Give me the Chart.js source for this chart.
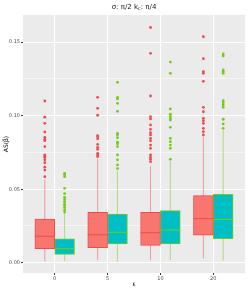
<!DOCTYPE html>
<html>
<head>
<meta charset="utf-8">
<script src="https://cdn.jsdelivr.net/npm/chart.js@4"></script>
<style>
  body { margin: 0; background: #fff; }
  canvas { display: block; }
</style>
</head>
<body>
<canvas id="boxChart" width="249" height="291"></canvas>
<script>
// Data
const categories = ['0', '5', '10', '20'];

const redLo  = [0.0010, 0.0018, 0.0018, 0.0030];
const redQ1  = [0.0095, 0.0102, 0.0118, 0.0188];
const redMed = [0.0180, 0.0190, 0.0204, 0.0300];
const redQ3  = [0.0296, 0.0343, 0.0343, 0.0456];
const redHi  = [0.0565, 0.0705, 0.0658, 0.0857];
const redOut = [
    [0.0585, 0.0630, 0.0650, 0.0680, 0.0700, 0.0715, 0.0725, 0.0733, 0.0790, 0.0830, 0.0839, 0.0853, 0.0889, 0.0948, 0.0990, 0.1100],
    [0.0721, 0.0733, 0.0744, 0.0771, 0.0785, 0.0805, 0.0844, 0.0857, 0.0864, 0.1003, 0.1050, 0.1125],
    [0.0687, 0.0703, 0.0717, 0.0733, 0.0778, 0.0800, 0.0830, 0.0846, 0.0869, 0.0884, 0.0907, 0.0937, 0.0978, 0.0993, 0.1134, 0.1424, 0.1600],
    [0.0869, 0.0891, 0.0914, 0.0948, 0.0966, 0.0982, 0.1027, 0.1057, 0.1234, 0.1288, 0.1300, 0.1388, 0.1537]
];

const cyanLo  = [0.0010, 0.0007, 0.0018, 0.0014];
const cyanQ1  = [0.0057, 0.0127, 0.0127, 0.0163];
const cyanMed = [0.0095, 0.0207, 0.0222, 0.0295];
const cyanQ3  = [0.0163, 0.0331, 0.0354, 0.0465];
const cyanHi  = [0.0336, 0.0625, 0.0690, 0.0900];
const cyanOut = [
    [0.0345, 0.0360, 0.0375, 0.0390, 0.0400, 0.0415, 0.0430, 0.0445, 0.0470, 0.0506, 0.0585, 0.0597, 0.0608],
    [0.0640, 0.0665, 0.0700, 0.0733, 0.0790, 0.0810, 0.0820, 0.0850, 0.0870, 0.0880, 0.1030, 0.1084, 0.1114, 0.1125, 0.1227],
    [0.0703, 0.0778, 0.0800, 0.0823, 0.0846, 0.0921, 0.0970, 0.0980, 0.0993, 0.1010, 0.1046, 0.1288, 0.1365],
    [0.0914, 0.0944, 0.0976, 0.1057, 0.1073, 0.1088, 0.1102, 0.1288, 0.1300, 0.1311, 0.1406, 0.1420]
];

const yMajor = [0, 0.05, 0.10, 0.15];
const yMinor = [0.025, 0.075, 0.125];

// Styling
const redFill = '#F8766D';
const redLine = '#F04A4E';
const redWhisker = 'rgba(240, 74, 78, 0.5)';
const cyanFill = '#00BFC4';
const greenLine = '#72CC18';
const greenWhisker = 'rgba(114, 204, 24, 0.5)';
const dodge = 0.1875; // half of the dodge width (0.75 / 4)

// Helpers to turn the arrays into chart points
function boxPoints(q1, q3, shift) {
    return q1.map((v, i) => ({ x: i + shift, y: [v, q3[i]] }));
}

function whiskerPoints(lo, hi, shift) {
    const pts = [];
    lo.forEach((v, i) => {
        pts.push({ x: i + shift, y: v }, { x: i + shift, y: hi[i] }, { x: i + shift, y: null });
    });
    return pts;
}

function medianPoints(med, shift) {
    const pts = [];
    med.forEach((v, i) => {
        pts.push({ x: i + shift - dodge, y: v }, { x: i + shift + dodge, y: v }, { x: i + shift, y: null });
    });
    return pts;
}

function outlierPoints(groups, shift) {
    const pts = [];
    groups.forEach((list, i) => list.forEach(v => pts.push({ x: i + shift, y: v })));
    return pts;
}

function segment(data, color, order) {
    return {
        type: 'line',
        data: data,
        borderColor: color,
        borderWidth: 1,
        pointRadius: 0,
        spanGaps: false,
        order: order
    };
}

function outliers(data, color) {
    return {
        type: 'scatter',
        data: data,
        backgroundColor: color,
        borderWidth: 0,
        pointRadius: 1.4,
        order: 0
    };
}

function box(data, fill, stroke) {
    return {
        type: 'bar',
        data: data,
        backgroundColor: fill,
        borderColor: stroke,
        borderWidth: 1,
        borderSkipped: false,
        grouped: false,
        categoryPercentage: 1,
        barPercentage: 1,
        order: 2
    };
}

// Panel background
const panelPlugin = {
    id: 'panel',
    beforeDraw(chart) {
        const { ctx, chartArea: a } = chart;
        ctx.save();
        ctx.fillStyle = '#EBEBEB';
        ctx.fillRect(a.left, a.top, a.right - a.left, a.bottom - a.top);
        ctx.restore();
    }
};

// Title with a subscript
const titlePlugin = {
    id: 'plotTitle',
    afterDraw(chart) {
        const { ctx, chartArea: a } = chart;
        const parts = [
            { text: 'σ: π/2 k', size: 7, dy: 0 },
            { text: 'c', size: 5, dy: 2 },
            { text: ': π/4', size: 7, dy: 0 }
        ];
        ctx.save();
        ctx.fillStyle = '#1a1a1a';
        ctx.textBaseline = 'middle';
        let total = 0;
        parts.forEach(p => {
            ctx.font = p.size + 'px "DejaVu Sans", sans-serif';
            p.w = ctx.measureText(p.text).width;
            total += p.w;
        });
        let x = (a.left + a.right) / 2 - total / 2;
        parts.forEach(p => {
            ctx.font = p.size + 'px "DejaVu Sans", sans-serif';
            ctx.fillText(p.text, x, 7 + p.dy);
            x += p.w;
        });
        ctx.restore();
    }
};

const yTicks = yMajor.concat(yMinor).sort((a, b) => a - b);
const tickFont = { family: '"DejaVu Sans", sans-serif', size: 5 };

new Chart(document.getElementById('boxChart'), {
    type: 'bar',
    data: {
        datasets: [
            segment(whiskerPoints(redLo, redHi, -dodge), redWhisker, 3),
            segment(whiskerPoints(cyanLo, cyanHi, dodge), greenWhisker, 3),
            box(boxPoints(redQ1, redQ3, -dodge), redFill, redLine),
            box(boxPoints(cyanQ1, cyanQ3, dodge), cyanFill, greenLine),
            segment(medianPoints(redMed, -dodge), redLine, 1),
            segment(medianPoints(cyanMed, dodge), greenLine, 1),
            outliers(outlierPoints(redOut, -dodge), redLine),
            outliers(outlierPoints(cyanOut, dodge), greenLine)
        ]
    },
    options: {
        responsive: false,
        animation: false,
        layout: { padding: { top: 15, right: 3, left: 0, bottom: 0 } },
        plugins: {
            legend: { display: false },
            tooltip: { enabled: false }
        },
        scales: {
            x: {
                type: 'linear',
                min: -0.6,
                max: 3.6,
                offset: false,
                afterBuildTicks: s => { s.ticks = categories.map((c, i) => ({ value: i })); },
                afterFit: s => { s.height = 18; },
                ticks: {
                    callback: v => categories[v],
                    font: tickFont,
                    color: '#4D4D4D',
                    padding: 1,
                    maxRotation: 0,
                    autoSkip: false
                },
                grid: { color: '#FFFFFF', lineWidth: 1, offset: false, tickLength: 2, tickColor: '#333333' },
                border: { display: false },
                title: { display: true, text: 'ε', font: { family: '"DejaVu Sans", sans-serif', size: 6 }, color: '#000', padding: { top: 0, bottom: 3 } }
            },
            y: {
                min: -0.007,
                max: 0.1685,
                afterBuildTicks: s => { s.ticks = yTicks.map(v => ({ value: v })); },
                afterFit: s => { s.width = 23; },
                ticks: {
                    callback: v => yMajor.includes(v) ? v.toFixed(2) : '',
                    font: tickFont,
                    color: '#4D4D4D',
                    padding: 1,
                    autoSkip: false
                },
                grid: {
                    color: '#FFFFFF',
                    lineWidth: ctx => yMajor.includes(ctx.tick.value) ? 1 : 0.5,
                    tickLength: 2,
                    tickColor: ctx => yMajor.includes(ctx.tick.value) ? '#333333' : 'rgba(0,0,0,0)'
                },
                border: { display: false },
                title: { display: true, text: 'AS(β̂)', font: { family: '"DejaVu Sans", sans-serif', size: 6 }, color: '#000', padding: { top: 3, bottom: 0 } }
            }
        }
    },
    plugins: [panelPlugin, titlePlugin]
});
</script>
</body>
</html>
